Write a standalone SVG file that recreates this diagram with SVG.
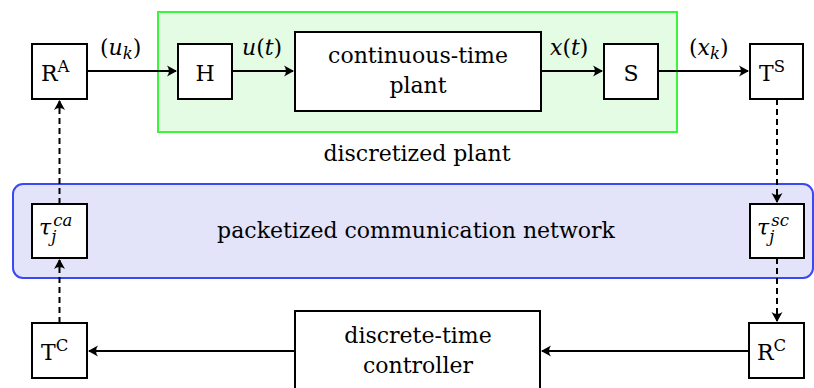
<svg xmlns="http://www.w3.org/2000/svg" width="814" height="388" viewBox="0 0 814 388" font-family="'DejaVu Serif', serif">
<style>
.box{fill:#fff;stroke:#000;stroke-width:2}
.t{font-family:'DejaVu Serif',serif;font-size:22px;fill:#000}
.i{font-style:italic}
.sm{font-size:16.5px}
.ln{fill:none;stroke:#000;stroke-width:2}
.ds{fill:none;stroke:#000;stroke-width:2;stroke-dasharray:6 4}
</style>
<defs>
<marker id="ah" viewBox="-11 -6 13 12" refX="0" refY="0" markerWidth="13" markerHeight="12" markerUnits="userSpaceOnUse" orient="auto">
<path d="M1,0 L-9,-5.5 Q-5,0 -9,5.5 Z" fill="#000"/>
</marker>
</defs>
<g id="discretized-plant">
<rect x="158" y="12" width="519" height="120" fill="#e4fbe4" stroke="#3af53a" stroke-width="2"/>
<text class="t" x="417" y="161" text-anchor="middle">discretized plant</text>
</g>
<g id="network">
<rect x="13" y="184" width="800" height="94" rx="10" fill="#e3e3fa" stroke="#3b48f5" stroke-width="2"/>
<text class="t" x="416" y="238" text-anchor="middle">packetized communication network</text>
</g>
<g id="RA"><rect class="box" x="32" y="44" width="55" height="55"/>
<text class="t" x="41" y="81">R<tspan class="sm" dy="-9">A</tspan></text></g>
<g id="H"><rect class="box" x="178" y="44" width="54" height="55"/>
<text class="t" x="205" y="81" text-anchor="middle">H</text></g>
<g id="plant"><rect class="box" x="295" y="32" width="246" height="79"/>
<text class="t" x="418" y="63" text-anchor="middle">continuous-time</text>
<text class="t" x="418" y="93" text-anchor="middle">plant</text></g>
<g id="S"><rect class="box" x="604" y="44" width="54" height="55"/>
<text class="t" x="631" y="81" text-anchor="middle">S</text></g>
<g id="TS"><rect class="box" x="750" y="44" width="53" height="55"/>
<text class="t" x="759" y="81">T<tspan class="sm" dy="-9">S</tspan></text></g>
<g id="tau-ca"><rect class="box" x="32" y="204" width="55" height="54"/>
<text class="t i" x="39" y="235">τ<tspan class="sm" dx="0" dy="7">j</tspan><tspan class="sm" dx="-3" dy="-16">ca</tspan></text></g>
<g id="tau-sc"><rect class="box" x="750" y="204" width="54" height="54"/>
<text class="t i" x="757" y="235">τ<tspan class="sm" dx="0" dy="7">j</tspan><tspan class="sm" dx="-3" dy="-16">sc</tspan></text></g>
<g id="TC"><rect class="box" x="32" y="323" width="55" height="55"/>
<text class="t" x="41" y="360">T<tspan class="sm" dy="-9">C</tspan></text></g>
<g id="controller"><rect class="box" x="295" y="311" width="245" height="80"/>
<text class="t" x="418" y="343" text-anchor="middle">discrete-time</text>
<text class="t" x="418" y="373" text-anchor="middle">controller</text></g>
<g id="RC"><rect class="box" x="749" y="323" width="55" height="55"/>
<text class="t" x="757" y="360">R<tspan class="sm" dy="-9">C</tspan></text></g>
<g id="connectors">
<line class="ln" x1="87" y1="71" x2="176" y2="71" marker-end="url(#ah)"/>
<line class="ln" x1="232" y1="71" x2="293" y2="71" marker-end="url(#ah)"/>
<line class="ln" x1="541" y1="71" x2="602" y2="71" marker-end="url(#ah)"/>
<line class="ln" x1="658" y1="71" x2="748" y2="71" marker-end="url(#ah)"/>
<line class="ln" x1="749" y1="351" x2="542" y2="351" marker-end="url(#ah)"/>
<line class="ln" x1="295" y1="351" x2="89" y2="351" marker-end="url(#ah)"/>
<line class="ds" x1="59.5" y1="323" x2="59.5" y2="260" marker-end="url(#ah)"/>
<line class="ds" x1="59.5" y1="204" x2="59.5" y2="101" marker-end="url(#ah)"/>
<line class="ds" x1="777" y1="99" x2="777" y2="202" marker-end="url(#ah)"/>
<line class="ds" x1="777" y1="258" x2="777" y2="321" marker-end="url(#ah)"/>
<text class="t" x="100" y="55">(<tspan class="i">u</tspan><tspan class="i sm" dy="4">k</tspan><tspan dy="-4">)</tspan></text>
<text class="t" x="242" y="55"><tspan class="i">u</tspan>(<tspan class="i">t</tspan>)</text>
<text class="t" x="550" y="55"><tspan class="i">x</tspan>(<tspan class="i">t</tspan>)</text>
<text class="t" x="689" y="55">(<tspan class="i">x</tspan><tspan class="i sm" dy="4">k</tspan><tspan dy="-4">)</tspan></text>
</g>
</svg>
